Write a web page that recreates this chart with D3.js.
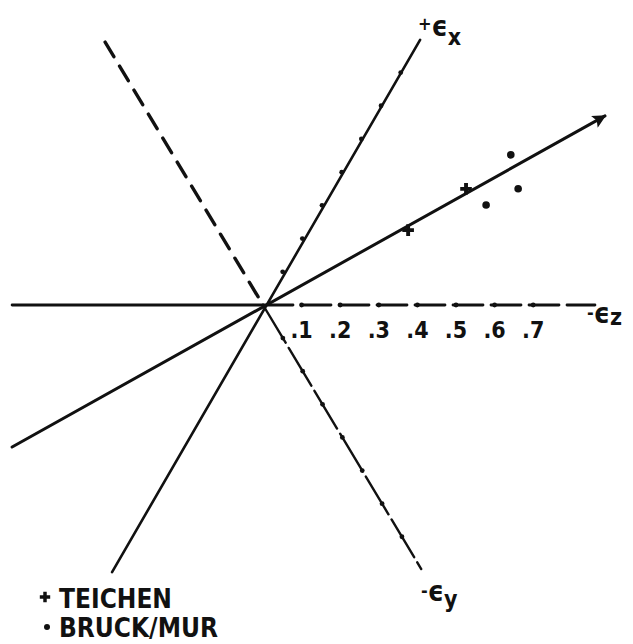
<!DOCTYPE html>
<html>
<head>
<meta charset="utf-8">
<script src="https://cdn.jsdelivr.net/npm/d3@7"></script>
<style>
  html, body { margin: 0; padding: 0; background: #fff; }
  svg { display: block; }
  text { font-family: "DejaVu Sans Condensed", "DejaVu Sans", sans-serif; fill: #111; font-weight: bold; }
</style>
</head>
<body>
<svg id="chart" width="633" height="644"></svg>
<script>
// Strain axes, in strain units, measured from the common origin
const ezAxisNeg = [[-0.650, 0], [0, 0]];
const ezAxisPos = [[0, 0], [0.860, 0]];
const exAxis = [[-0.391, -0.692], [0.407, 0.687]];
const eyAxisPos = [[-0.409, 0.681], [0, 0]];
const eyAxisNeg = [[0, 0], [0.410, -0.684]];
const trendLine = [[-0.650, -0.368], [0.886, 0.490]];

// Tick values along the axes and their labels on the εz axis
const tickValues = [0.1, 0.2, 0.3, 0.4, 0.5, 0.6, 0.7];
const tickLabels = [".1", ".2", ".3", ".4", ".5", ".6", ".7"];

// Measured strain points
const teichen = [[0.376, 0.194], [0.526, 0.301]];
const bruckMur = [[0.642, 0.389], [0.661, 0.301], [0.578, 0.259]];

const svg = d3.select("#chart");
const x = d3.scaleLinear().domain([0, 1]).range([263, 649]);
const y = d3.scaleLinear().domain([0, 1]).range([305, -81]);
const line = d3.line().x(d => x(d[0])).y(d => y(d[1]));

svg.append("defs").append("marker")
  .attr("id", "arrow")
  .attr("viewBox", "0 0 10 10")
  .attr("refX", 9).attr("refY", 5)
  .attr("markerWidth", 6).attr("markerHeight", 4.5)
  .attr("markerUnits", "strokeWidth")
  .attr("orient", "auto")
  .append("path").attr("d", "M0,0 L10,5 L0,10 L2,5 Z").attr("fill", "#111");

const ink = "#111";
function drawLine(pts, width, dash, marker) {
  const p = svg.append("path").attr("d", line(pts))
    .attr("fill", "none").attr("stroke", ink)
    .attr("stroke-width", width).attr("stroke-linecap", "round");
  if (dash) p.attr("stroke-dasharray", dash);
  if (marker) p.attr("marker-end", marker);
  return p;
}

drawLine(ezAxisNeg, 2.8);
drawLine(ezAxisPos, 2.8, "30,8");
drawLine(eyAxisPos, 3.4, "17,11");
drawLine(eyAxisNeg, 2.4, "44,6");
drawLine(exAxis, 2.6);
drawLine(trendLine, 3, null, "url(#arrow)");

// tick dots along the positive ends of the three strain axes
function unit(a) { const l = Math.hypot(a[0], a[1]); return [a[0] / l, a[1] / l]; }
const axisDirs = [[1, 0], unit(exAxis[1]), unit(eyAxisNeg[1])];
axisDirs.forEach(dir => {
  svg.append("g").selectAll("circle").data(tickValues).join("circle")
    .attr("cx", v => x(v * dir[0]))
    .attr("cy", v => y(v * dir[1]))
    .attr("r", 2.4).attr("fill", ink);
});

// tick labels on the εz axis
svg.append("g").selectAll("text").data(tickValues).join("text")
  .attr("x", v => x(v))
  .attr("y", 338)
  .attr("text-anchor", "middle")
  .attr("font-size", 23)
  .text((v, i) => tickLabels[i]);

// data markers
const plus = d3.symbol().type(d3.symbolCross).size(75);
svg.append("g").selectAll("path").data(teichen).join("path")
  .attr("transform", d => `translate(${x(d[0])},${y(d[1])})`)
  .attr("d", plus).attr("fill", ink);
svg.append("g").selectAll("circle").data(bruckMur).join("circle")
  .attr("cx", d => x(d[0])).attr("cy", d => y(d[1]))
  .attr("r", 3.8).attr("fill", ink);

// axis names
function axisName(px, py, sign, sub, subDy) {
  const t = svg.append("text").attr("x", px).attr("y", py);
  t.append("tspan").attr("font-size", 18).attr("dy", sign === "+" ? -6 : -4).text(sign);
  t.append("tspan").attr("font-size", 28).attr("dy", sign === "+" ? 6 : 4).text("ϵ");
  t.append("tspan").attr("font-size", 23).attr("dy", subDy).text(sub);
}
axisName(418, 36, "+", "x", 9);
axisName(587, 323, "-", "z", 2);
axisName(421, 601, "-", "y", 6);

// legend
const legend = svg.append("g");
legend.append("path").attr("transform", "translate(45,597)")
  .attr("d", d3.symbol().type(d3.symbolCross).size(60)).attr("fill", ink);
legend.append("text").attr("x", 59).attr("y", 608).attr("font-size", 26).text("TEICHEN");
legend.append("circle").attr("cx", 47).attr("cy", 627).attr("r", 3).attr("fill", ink);
legend.append("text").attr("x", 59).attr("y", 637).attr("font-size", 26).text("BRUCK/MUR");
</script>
</body>
</html>
